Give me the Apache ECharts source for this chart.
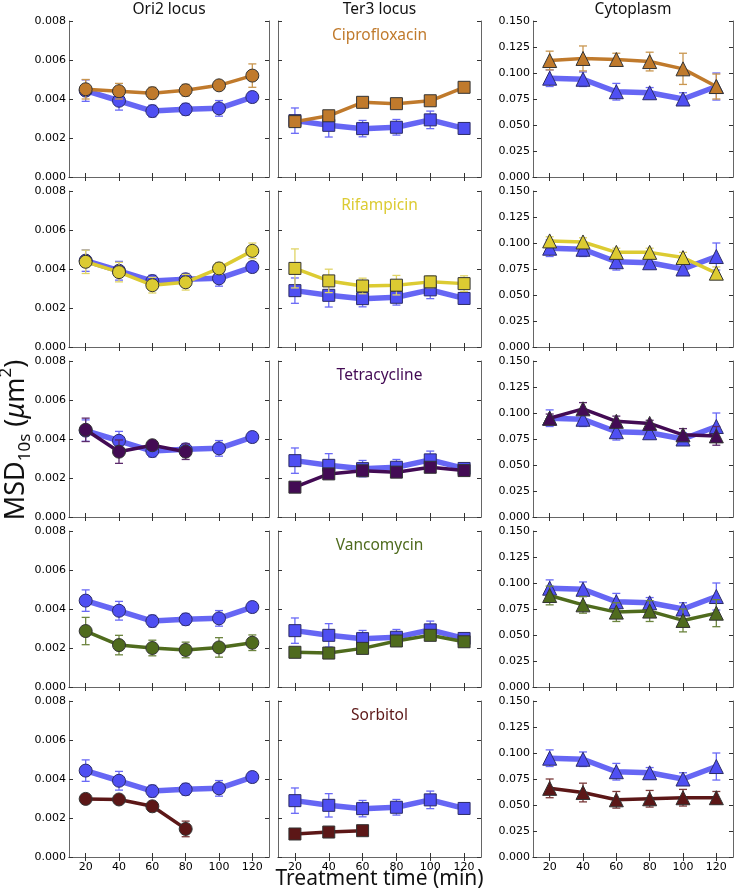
<!DOCTYPE html>
<html>
<head>
<meta charset="utf-8">
<script src="https://cdn.jsdelivr.net/npm/echarts@6/dist/echarts.min.js"></script>
<style>
  html, body { margin: 0; padding: 0; background: #fff; }
  #chart { width: 739px; height: 892px; }
</style>
</head>
<body>
<div id="chart"></div>
<script>
// 时间点 (min)
const times = [20, 40, 60, 80, 100, 120]

// 对照组 (blue)
const ctrlOri = [0.00443, 0.00391, 0.00338, 0.00347, 0.00352, 0.0041]
const ctrlOriErr = [0.00055, 0.00048, 0.0003, 0.0003, 0.0004, 0.00025]
const ctrlTer = [0.00289, 0.00265, 0.00248, 0.00255, 0.00293, 0.00249]
const ctrlTerErr = [0.00065, 0.0006, 0.00042, 0.0004, 0.00045, 0.0001]
const ctrlCyto = [0.095, 0.094, 0.082, 0.081, 0.075, 0.087]
const ctrlCytoErr = [0.008, 0.007, 0.008, 0.005, 0.006, 0.013]

// Ciprofloxacin
const ciproOri = [0.0045, 0.0044, 0.0043, 0.00445, 0.0047, 0.0052]
const ciproOriErr = [0.0005, 0.0004, 0.0003, 0.0003, 0.0002, 0.0006]
const ciproTer = [0.00284, 0.00314, 0.00383, 0.00376, 0.00391, 0.0046]
const ciproTerErr = [0.0002, 0.0001, 0.0001, 0.0001, 0.0001, 0.0001]
const ciproCyto = [0.112, 0.114, 0.113, 0.111, 0.104, 0.087]
const ciproCytoErr = [0.009, 0.012, 0.006, 0.009, 0.015, 0.012]

// Rifampicin
const rifOri = [0.00437, 0.00384, 0.00317, 0.00332, 0.00403, 0.00493]
const rifOriErr = [0.0006, 0.0005, 0.0004, 0.0004, 0.0003, 0.0004]
const rifTer = [0.00403, 0.00339, 0.00313, 0.00317, 0.00334, 0.00325]
const rifTerErr = [0.001, 0.0006, 0.0004, 0.0005, 0.0003, 0.0004]
const rifCyto = [0.102, 0.101, 0.091, 0.091, 0.086, 0.071]
const rifCytoErr = [0.004, 0.004, 0.004, 0.004, 0.005, 0.006]

// Tetracycline
const tetOri = [0.00447, 0.00335, 0.00368, 0.00335]
const tetOriErr = [0.0006, 0.0006, 0.0002, 0.0004]
const tetTer = [0.00153, 0.00221, 0.00237, 0.0023, 0.00255, 0.00238]
const tetTerErr = [0.0001, 0.0001, 0.0001, 0.0001, 0.0001, 0.0001]
const tetCyto = [0.095, 0.104, 0.092, 0.09, 0.079, 0.078]
const tetCytoErr = [0.004, 0.006, 0.005, 0.003, 0.006, 0.009]

// Vancomycin
const vanOri = [0.00287, 0.00215, 0.002, 0.0019, 0.00203, 0.00227]
const vanOriErr = [0.0007, 0.0005, 0.0004, 0.0004, 0.0005, 0.0004]
const vanTer = [0.00178, 0.00174, 0.00198, 0.00236, 0.00265, 0.00232]
const vanTerErr = [0.0001, 0.0001, 0.0002, 0.0002, 0.0002, 0.0002]
const vanCyto = [0.088, 0.079, 0.072, 0.073, 0.064, 0.071]
const vanCytoErr = [0.009, 0.008, 0.009, 0.01, 0.011, 0.013]

// Sorbitol
const sorOri = [0.00298, 0.00295, 0.0026, 0.00144]
const sorOriErr = [0.0002, 0.0001, 0.0001, 0.0004]
const sorTer = [0.00118, 0.00128, 0.00135]
const sorTerErr = [0.0001, 0.0001, 0.0001]
const sorCyto = [0.066, 0.062, 0.055, 0.056, 0.057, 0.057]
const sorCytoErr = [0.009, 0.009, 0.008, 0.008, 0.008, 0.006]

const columnTitles = ['Ori2 locus', 'Ter3 locus', 'Cytoplasm']
const yMax = [0.008, 0.008, 0.15]
const yStep = [0.002, 0.002, 0.025]

const control = {
  values: [ctrlOri, ctrlTer, ctrlCyto],
  errors: [ctrlOriErr, ctrlTerErr, ctrlCytoErr]
}

const treatments = [
  { name: 'Ciprofloxacin', color: '#c07a2c', err: '#c9964f', values: [ciproOri, ciproTer, ciproCyto], errors: [ciproOriErr, ciproTerErr, ciproCytoErr] },
  { name: 'Rifampicin', color: '#dccb32', err: '#e0d466', values: [rifOri, rifTer, rifCyto], errors: [rifOriErr, rifTerErr, rifCytoErr] },
  { name: 'Tetracycline', color: '#430b54', err: '#5c2a6c', values: [tetOri, tetTer, tetCyto], errors: [tetOriErr, tetTerErr, tetCytoErr] },
  { name: 'Vancomycin', color: '#4f6b1d', err: '#6d8540', values: [vanOri, vanTer, vanCyto], errors: [vanOriErr, vanTerErr, vanCytoErr] },
  { name: 'Sorbitol', color: '#5c1717', err: '#7a3a3a', values: [sorOri, sorTer, sorCyto], errors: [sorOriErr, sorTerErr, sorCytoErr] }
]

const colLeft = [69, 278, 533]
const colWidth = [200, 203, 200]
const rowTop = [21, 191, 361, 531, 701]
const panelHeight = 156
const symbols = ['circle', 'rect', 'triangle']
const symbolSizes = [13, 12, 14]

const axisFont = { fontFamily: 'DejaVu Sans', fontSize: 11, color: '#000' }
const frameLine = { show: true, lineStyle: { color: '#666', width: 1 } }

const grids = []
const xAxes = []
const yAxes = []
const series = []
const graphics = []

/** 误差棒 */
function errorBar(color) {
  return function (params, api) {
    const x = api.value(0)
    const y = api.value(1)
    const e = api.value(2)
    const top = api.coord([x, y + e])
    const bot = api.coord([x, y - e])
    const hw = 4
    const style = { stroke: color, lineWidth: 1.3 }
    return {
      type: 'group',
      children: [
        { type: 'line', shape: { x1: top[0], y1: top[1], x2: bot[0], y2: bot[1] }, style },
        { type: 'line', shape: { x1: top[0] - hw, y1: top[1], x2: top[0] + hw, y2: top[1] }, style },
        { type: 'line', shape: { x1: bot[0] - hw, y1: bot[1], x2: bot[0] + hw, y2: bot[1] }, style }
      ]
    }
  }
}

function pairs(values) {
  return values.map((v, i) => [times[i], v])
}

function triples(values, errors) {
  return values.map((v, i) => [times[i], v, errors[i]])
}

treatments.forEach((t, r) => {
  for (let c = 0; c < 3; c++) {
    const g = grids.length
    const last = r === treatments.length - 1
    grids.push({ left: colLeft[c], top: rowTop[r], width: colWidth[c], height: panelHeight })

    xAxes.push({
      type: 'value', gridIndex: g, min: 10, max: 130, position: 'bottom',
      axisLine: frameLine,
      axisTick: { inside: true, length: 4, customValues: times, lineStyle: { color: '#333' } },
      axisLabel: { show: last, customValues: times, margin: 5, ...axisFont },
      splitLine: { show: false }
    })
    xAxes.push({
      type: 'value', gridIndex: g, min: 10, max: 130, position: 'top',
      axisLine: frameLine,
      axisTick: { inside: true, length: 4, customValues: times, lineStyle: { color: '#333' } },
      axisLabel: { show: false },
      splitLine: { show: false }
    })
    yAxes.push({
      type: 'value', gridIndex: g, min: 0, max: yMax[c], interval: yStep[c], position: 'left',
      axisLine: frameLine,
      axisTick: { inside: true, length: 4, lineStyle: { color: '#333' } },
      axisLabel: { show: c !== 1, margin: 3, formatter: v => v.toFixed(3), ...axisFont },
      splitLine: { show: false }
    })
    yAxes.push({
      type: 'value', gridIndex: g, min: 0, max: yMax[c], interval: yStep[c], position: 'right',
      axisLine: frameLine,
      axisTick: { inside: true, length: 4, lineStyle: { color: '#333' } },
      axisLabel: { show: false },
      splitLine: { show: false }
    })

    const xi = 2 * g
    const yi = 2 * g

    series.push({
      type: 'custom', xAxisIndex: xi, yAxisIndex: yi, z: 2,
      renderItem: errorBar('#6a6af6'),
      data: triples(control.values[c], control.errors[c])
    })
    series.push({
      type: 'line', xAxisIndex: xi, yAxisIndex: yi, z: 3,
      data: pairs(control.values[c]),
      symbol: symbols[c], symbolSize: symbolSizes[c],
      lineStyle: { color: '#5555f3', width: 5.5, opacity: 0.9 },
      itemStyle: { color: '#4f4ff2', borderColor: '#2b2b66', borderWidth: 1 },
      emphasis: { disabled: true }
    })
    series.push({
      type: 'custom', xAxisIndex: xi, yAxisIndex: yi, z: 4,
      renderItem: errorBar(t.err),
      data: triples(t.values[c], t.errors[c])
    })
    series.push({
      type: 'line', xAxisIndex: xi, yAxisIndex: yi, z: 5,
      data: pairs(t.values[c]),
      symbol: symbols[c], symbolSize: symbolSizes[c],
      lineStyle: { color: t.color, width: 3.5 },
      itemStyle: { color: t.color, borderColor: '#333', borderWidth: 1 },
      emphasis: { disabled: true }
    })
  }

  graphics.push({
    type: 'text', x: colLeft[1] + colWidth[1] / 2, y: rowTop[r] + 15,
    style: { text: t.name, fill: t.color, fontFamily: 'Noto Sans', fontSize: 15.5, align: 'center', verticalAlign: 'middle' }
  })
})

columnTitles.forEach((title, c) => {
  graphics.push({
    type: 'text', x: colLeft[c] + colWidth[c] / 2, y: 10,
    style: { text: title, fill: '#111', fontFamily: 'Noto Sans', fontSize: 15.5, align: 'center', verticalAlign: 'middle' }
  })
})

graphics.push({
  type: 'text', x: colLeft[1] + colWidth[1] / 2, y: 879,
  style: { text: 'Treatment time (min)', fill: '#111', fontFamily: 'Noto Sans', fontSize: 21, align: 'center', verticalAlign: 'middle' }
})

graphics.push({
  type: 'text', x: 16, y: 440, rotation: Math.PI / 2,
  style: {
    text: '{a|MSD}{s|10s}{a| (}{i|μ}{a|m}{p|2}{a|)}',
    align: 'center', verticalAlign: 'middle',
    rich: {
      a: { fontFamily: 'Noto Sans', fontSize: 27, lineHeight: 36, fill: '#111' },
      i: { fontFamily: 'Noto Sans', fontSize: 27, lineHeight: 36, fontStyle: 'italic', fill: '#111' },
      s: { fontFamily: 'Noto Sans', fontSize: 17, lineHeight: 36, verticalAlign: 'bottom', fill: '#111' },
      p: { fontFamily: 'Noto Sans', fontSize: 17, lineHeight: 36, verticalAlign: 'top', fill: '#111' }
    }
  }
})

const chart = echarts.init(document.getElementById('chart'))
chart.setOption({
  animation: false,
  grid: grids,
  xAxis: xAxes,
  yAxis: yAxes,
  series,
  graphic: graphics
})
</script>
</body>
</html>
